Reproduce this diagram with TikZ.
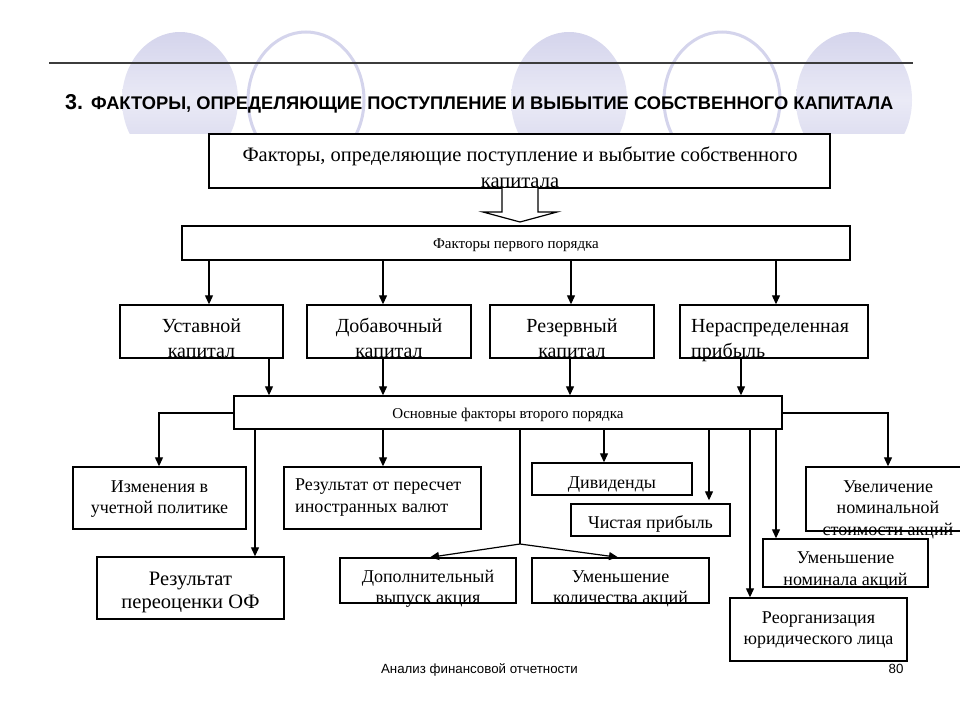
\documentclass[tikz,border=0pt]{standalone}
\usepackage{fontspec}
\setmainfont{Liberation Serif}
\newfontfamily\arialf{Liberation Sans}
\usetikzlibrary{arrows.meta}
\definecolor{lav}{RGB}{212,212,236}
\definecolor{lavlt}{RGB}{234,234,246}
\definecolor{rulegray}{RGB}{60,60,60}
\tikzset{
  bx/.style={draw=black, line width=1.4pt, fill=white, inner sep=0pt},
  arr/.style={line width=1.2pt, -{Triangle[length=9pt,width=8pt]}},
  ln/.style={line width=1.2pt},
  tx/.style={anchor=base, inner sep=0pt, font=\fontsize{18}{20}\selectfont},
  txl/.style={tx, anchor=base west},
  txbig/.style={tx, font=\fontsize{20.5}{22}\selectfont},
  txsm/.style={tx, font=\fontsize{15}{17}\selectfont},
  ringf/.style={top color=lav, bottom color=lav, middle color=lavlt},
  ringo/.style={draw=lav, line width=3pt},
}
\begin{document}
\begin{tikzpicture}[x=1pt,y=-1pt]
\useasboundingbox (0,0) rectangle (960,720);
\fill[white] (0,0) rectangle (960,720);
% decorative ellipses
\begin{scope}
  \clip (0,0) rectangle (960,133);
  \shade[ringf] (180,100) ellipse [x radius=58pt, y radius=68pt];
  \draw[ringo] (306,100) ellipse [x radius=58pt, y radius=68pt];
  \shade[ringf] (569,100) ellipse [x radius=58pt, y radius=68pt];
  \draw[ringo] (722,100) ellipse [x radius=58pt, y radius=68pt];
  \shade[ringf] (854,100) ellipse [x radius=58pt, y radius=68pt];
\end{scope}
% rule
\draw[line width=2pt, rulegray] (49,63) -- (317,63);
\draw[line width=1.3pt, rulegray] (317,63) -- (913,63);
% title
\node[anchor=base west, inner sep=0pt] (title) at (65,109)
  {\arialf\bfseries{\fontsize{21.5}{24}\selectfont 3. }{\fontsize{18.3}{22}\selectfont ФАКТОРЫ, ОПРЕДЕЛЯЮЩИЕ ПОСТУПЛЕНИЕ И ВЫБЫТИЕ СОБСТВЕННОГО КАПИТАЛА}};

% boxes
\node[bx, minimum width=621pt, minimum height=54pt] (top) at (519.5,161) {};
\node[bx, minimum width=668pt, minimum height=34pt] (first) at (516,243) {};
\node[bx, minimum width=163pt, minimum height=53pt] (ust) at (201.5,331.5) {};
\node[bx, minimum width=164pt, minimum height=53pt] (dob) at (389,331.5) {};
\node[bx, minimum width=164pt, minimum height=53pt] (rez) at (572,331.5) {};
\node[bx, minimum width=188pt, minimum height=53pt] (ner) at (774,331.5) {};
\node[bx, minimum width=548pt, minimum height=33pt] (sec) at (508,412.5) {};
\node[bx, minimum width=173pt, minimum height=62pt] (izm) at (159.5,498) {};
\node[bx, minimum width=187pt, minimum height=62pt] (per) at (190.5,588) {};
\node[bx, minimum width=197pt, minimum height=62pt] (val) at (382.5,498) {};
\node[bx, minimum width=176pt, minimum height=45pt] (dop) at (428,580.5) {};
\node[bx, minimum width=177pt, minimum height=45pt] (umk) at (620.5,580.5) {};
\node[bx, minimum width=160pt, minimum height=32pt] (div) at (612,479) {};
\node[bx, minimum width=159pt, minimum height=32pt] (chp) at (650.5,520) {};
\node[bx, minimum width=177pt, minimum height=63pt] (reo) at (818.5,629.5) {};
\node[bx, minimum width=165pt, minimum height=48pt] (umn) at (845.5,563) {};
\node[bx, minimum width=164pt, minimum height=64pt] (uvl) at (888,499) {};

% texts
\node[txbig] (top1) at (520,161) {Факторы, определяющие поступление и выбытие собственного};
\node[txbig] (top2) at (520,187) {капитала};
\node[txsm] (first1) at (516,248) {Факторы первого порядка};
\node[txbig, font=\fontsize{20}{22}\selectfont] (ust1) at (201.5,332) {Уставной};
\node[txbig, font=\fontsize{20}{22}\selectfont] (ust2) at (201.5,357) {капитал};
\node[txbig, font=\fontsize{20}{22}\selectfont] (dob1) at (389,332) {Добавочный};
\node[txbig, font=\fontsize{20}{22}\selectfont] (dob2) at (389,357) {капитал};
\node[txbig, font=\fontsize{20}{22}\selectfont] (rez1) at (572,332) {Резервный};
\node[txbig, font=\fontsize{20}{22}\selectfont] (rez2) at (572,357) {капитал};
\node[txl, font=\fontsize{20}{22}\selectfont] (ner1) at (691,332) {Нераспределенная};
\node[txl, font=\fontsize{20}{22}\selectfont] (ner2) at (691,357) {прибыль};
\node[txsm] (sec1) at (508,418) {Основные факторы второго порядка};
\node[tx] (izm1) at (159.5,492) {Изменения в};
\node[tx] (izm2) at (159.5,513) {учетной политике};
\node[txbig] (per1) at (190.5,585) {Результат};
\node[txbig] (per2) at (190.5,608) {переоценки ОФ};
\node[txl] (val1) at (295,490) {Результат от пересчет};
\node[txl] (val2) at (295,512) {иностранных валют};
\node[tx] (dop1) at (428,582) {Дополнительный};
\node[tx] (dop2) at (428,603) {выпуск акция};
\node[tx] (umk1) at (620.5,582) {Уменьшение};
\node[tx] (umk2) at (620.5,603) {количества акций};
\node[tx] (div1) at (612,488) {Дивиденды};
\node[tx] (chp1) at (650.5,528) {Чистая прибыль};
\node[tx] (reo1) at (818.5,623) {Реорганизация};
\node[tx] (reo2) at (818.5,644) {юридического лица};
\node[tx] (umn1) at (845.5,563) {Уменьшение};
\node[tx] (umn2) at (845.5,585) {номинала акций};
\node[tx] (uvl1) at (888,492) {Увеличение};
\node[tx] (uvl2) at (888,513) {номинальной};
\node[tx] (uvl3) at (888,535) {стоимости акций};

% footer
\node[anchor=base, inner sep=0pt, font=\arialf\fontsize{13.3}{15}\selectfont] (foot) at (479.5,673) {Анализ финансовой отчетности};
\node[anchor=base, inner sep=0pt, font=\arialf\fontsize{13.3}{15}\selectfont] (page) at (896,673) {80};

% block arrow
\draw[line width=1.2pt, fill=white] (502,188) -- (502,212) -- (483,212) -- (520,222) -- (557,212) -- (538,212) -- (538,188);

% column coordinates
\coordinate (k209) at (209,0);
\coordinate (k383) at (383,0);
\coordinate (k571) at (571,0);
\coordinate (k776) at (776,0);
\coordinate (k269) at (269,0);
\coordinate (k570) at (570,0);
\coordinate (k741) at (741,0);
\coordinate (k159) at (159,0);
\coordinate (k255) at (255,0);
\coordinate (k520) at (520,0);
\coordinate (k604) at (604,0);
\coordinate (k709) at (709,0);
\coordinate (k750) at (750,0);
\coordinate (k888) at (888,0);
\coordinate (k430) at (430,0);
\coordinate (k618) at (618,0);
\coordinate (br) at (520,544);
\coordinate (yl) at (0,413);

% first order -> row
\draw[arr] (first.south -| k209) -- (ust.north -| k209);
\draw[arr] (first.south -| k383) -- (dob.north -| k383);
\draw[arr] (first.south -| k571) -- (rez.north -| k571);
\draw[arr] (first.south -| k776) -- (ner.north -| k776);
% row -> second order
\draw[arr] (ust.south -| k269) -- (sec.north -| k269);
\draw[arr] (dob.south -| k383) -- (sec.north -| k383);
\draw[arr] (rez.south -| k570) -- (sec.north -| k570);
\draw[arr] (ner.south -| k741) -- (sec.north -| k741);
% second order -> leaves
\draw[arr] (sec.west |- yl) -| (izm.north -| k159);
\draw[arr] (sec.east |- yl) -| (uvl.north -| k888);
\draw[arr] (sec.south -| k255) -- (per.north -| k255);
\draw[arr] (sec.south -| k383) -- (val.north -| k383);
\draw[ln] (sec.south -| k520) -- (br);
\draw[arr] (br) -- (dop.north -| k430);
\draw[arr] (br) -- (umk.north -| k618);
\draw[arr] (sec.south -| k604) -- (div.north -| k604);
\draw[arr, shorten >=3pt] (sec.south -| k709) -- (chp.north -| k709);
\draw[arr] (sec.south -| k750) -- (reo.north -| k750);
\draw[arr] (sec.south -| k776) -- (umn.north -| k776);
\end{tikzpicture}
\end{document}
